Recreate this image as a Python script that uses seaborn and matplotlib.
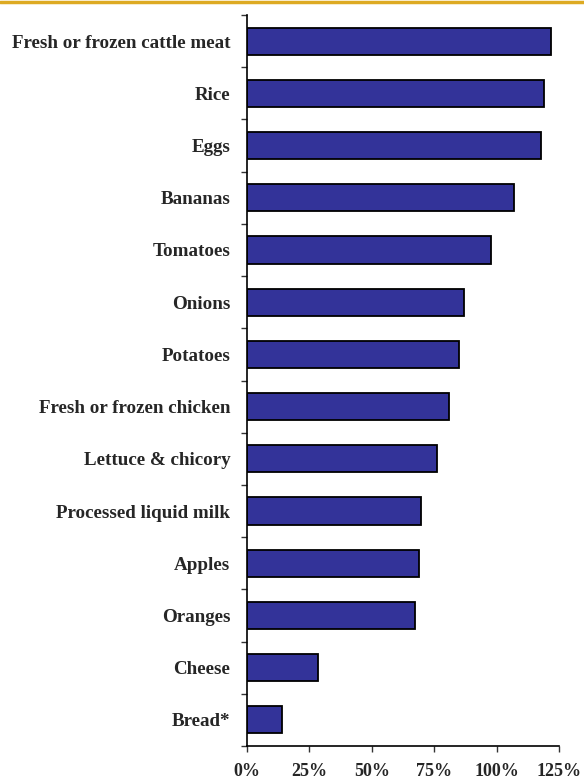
import numpy as np
import pandas as pd
import matplotlib
matplotlib.use("Agg")
import matplotlib.pyplot as plt
from matplotlib.lines import Line2D
import seaborn as sns

categories = [
    "Fresh or frozen cattle meat", "Rice", "Eggs", "Bananas", "Tomatoes",
    "Onions", "Potatoes", "Fresh or frozen chicken", "Lettuce & chicory",
    "Processed liquid milk", "Apples", "Oranges", "Cheese", "Bread*",
]
values = [121.7, 119.1, 117.9, 107.0, 97.8, 87.1, 84.8, 80.9, 76.0,
          69.7, 69.0, 67.2, 28.6, 14.1]
x_ticks = [0, 25, 50, 75, 100, 125]
x_tick_labels = ["0%", "25%", "50%", "75%", "100%", "125%"]

df = pd.DataFrame({"item": categories, "share": values})

sns.set_style("white")
plt.rcParams["font.family"] = ["Liberation Serif", "DejaVu Serif"]

fig = plt.figure(figsize=(5.84, 7.82), dpi=100)
ax = fig.add_axes([247 / 584, 1 - 746 / 782, (559 - 247) / 584, (746 - 15) / 782])

sns.barplot(data=df, x="share", y="item", order=categories, orient="h",
            color="#333399", saturation=1, edgecolor="black", linewidth=1.3,
            width=0.52, ax=ax)

ax.set_xlim(0, 125)
ax.set_ylim(len(categories) - 0.5, -0.5)
ax.set_xlabel("")
ax.set_ylabel("")

ax.set_xticks(x_ticks)
ax.set_xticklabels(x_tick_labels, fontsize=13, fontweight="bold")
ax.set_yticks(range(len(categories)))
ax.set_yticklabels(categories, fontsize=13.7, fontweight="bold")
ax.set_yticks(np.arange(-0.5, len(categories), 1), minor=True)

ax.tick_params(axis="y", which="major", length=0, pad=12)
ax.tick_params(axis="y", which="minor", length=4.3, width=1, color="#333333",
               direction="out", left=True)
ax.tick_params(axis="x", which="major", length=4.3, width=1, color="#333333",
               direction="out", bottom=True, pad=8)

for side in ["top", "right"]:
    ax.spines[side].set_visible(False)
for side in ["left", "bottom"]:
    ax.spines[side].set_color("black")
    ax.spines[side].set_linewidth(1.2)

# gold rule along the top edge
fig.add_artist(Line2D([0, 1], [0.998, 0.998], transform=fig.transFigure,
                      color="#DDAA22", linewidth=2.5))

fig.savefig("out.png", dpi=100)
